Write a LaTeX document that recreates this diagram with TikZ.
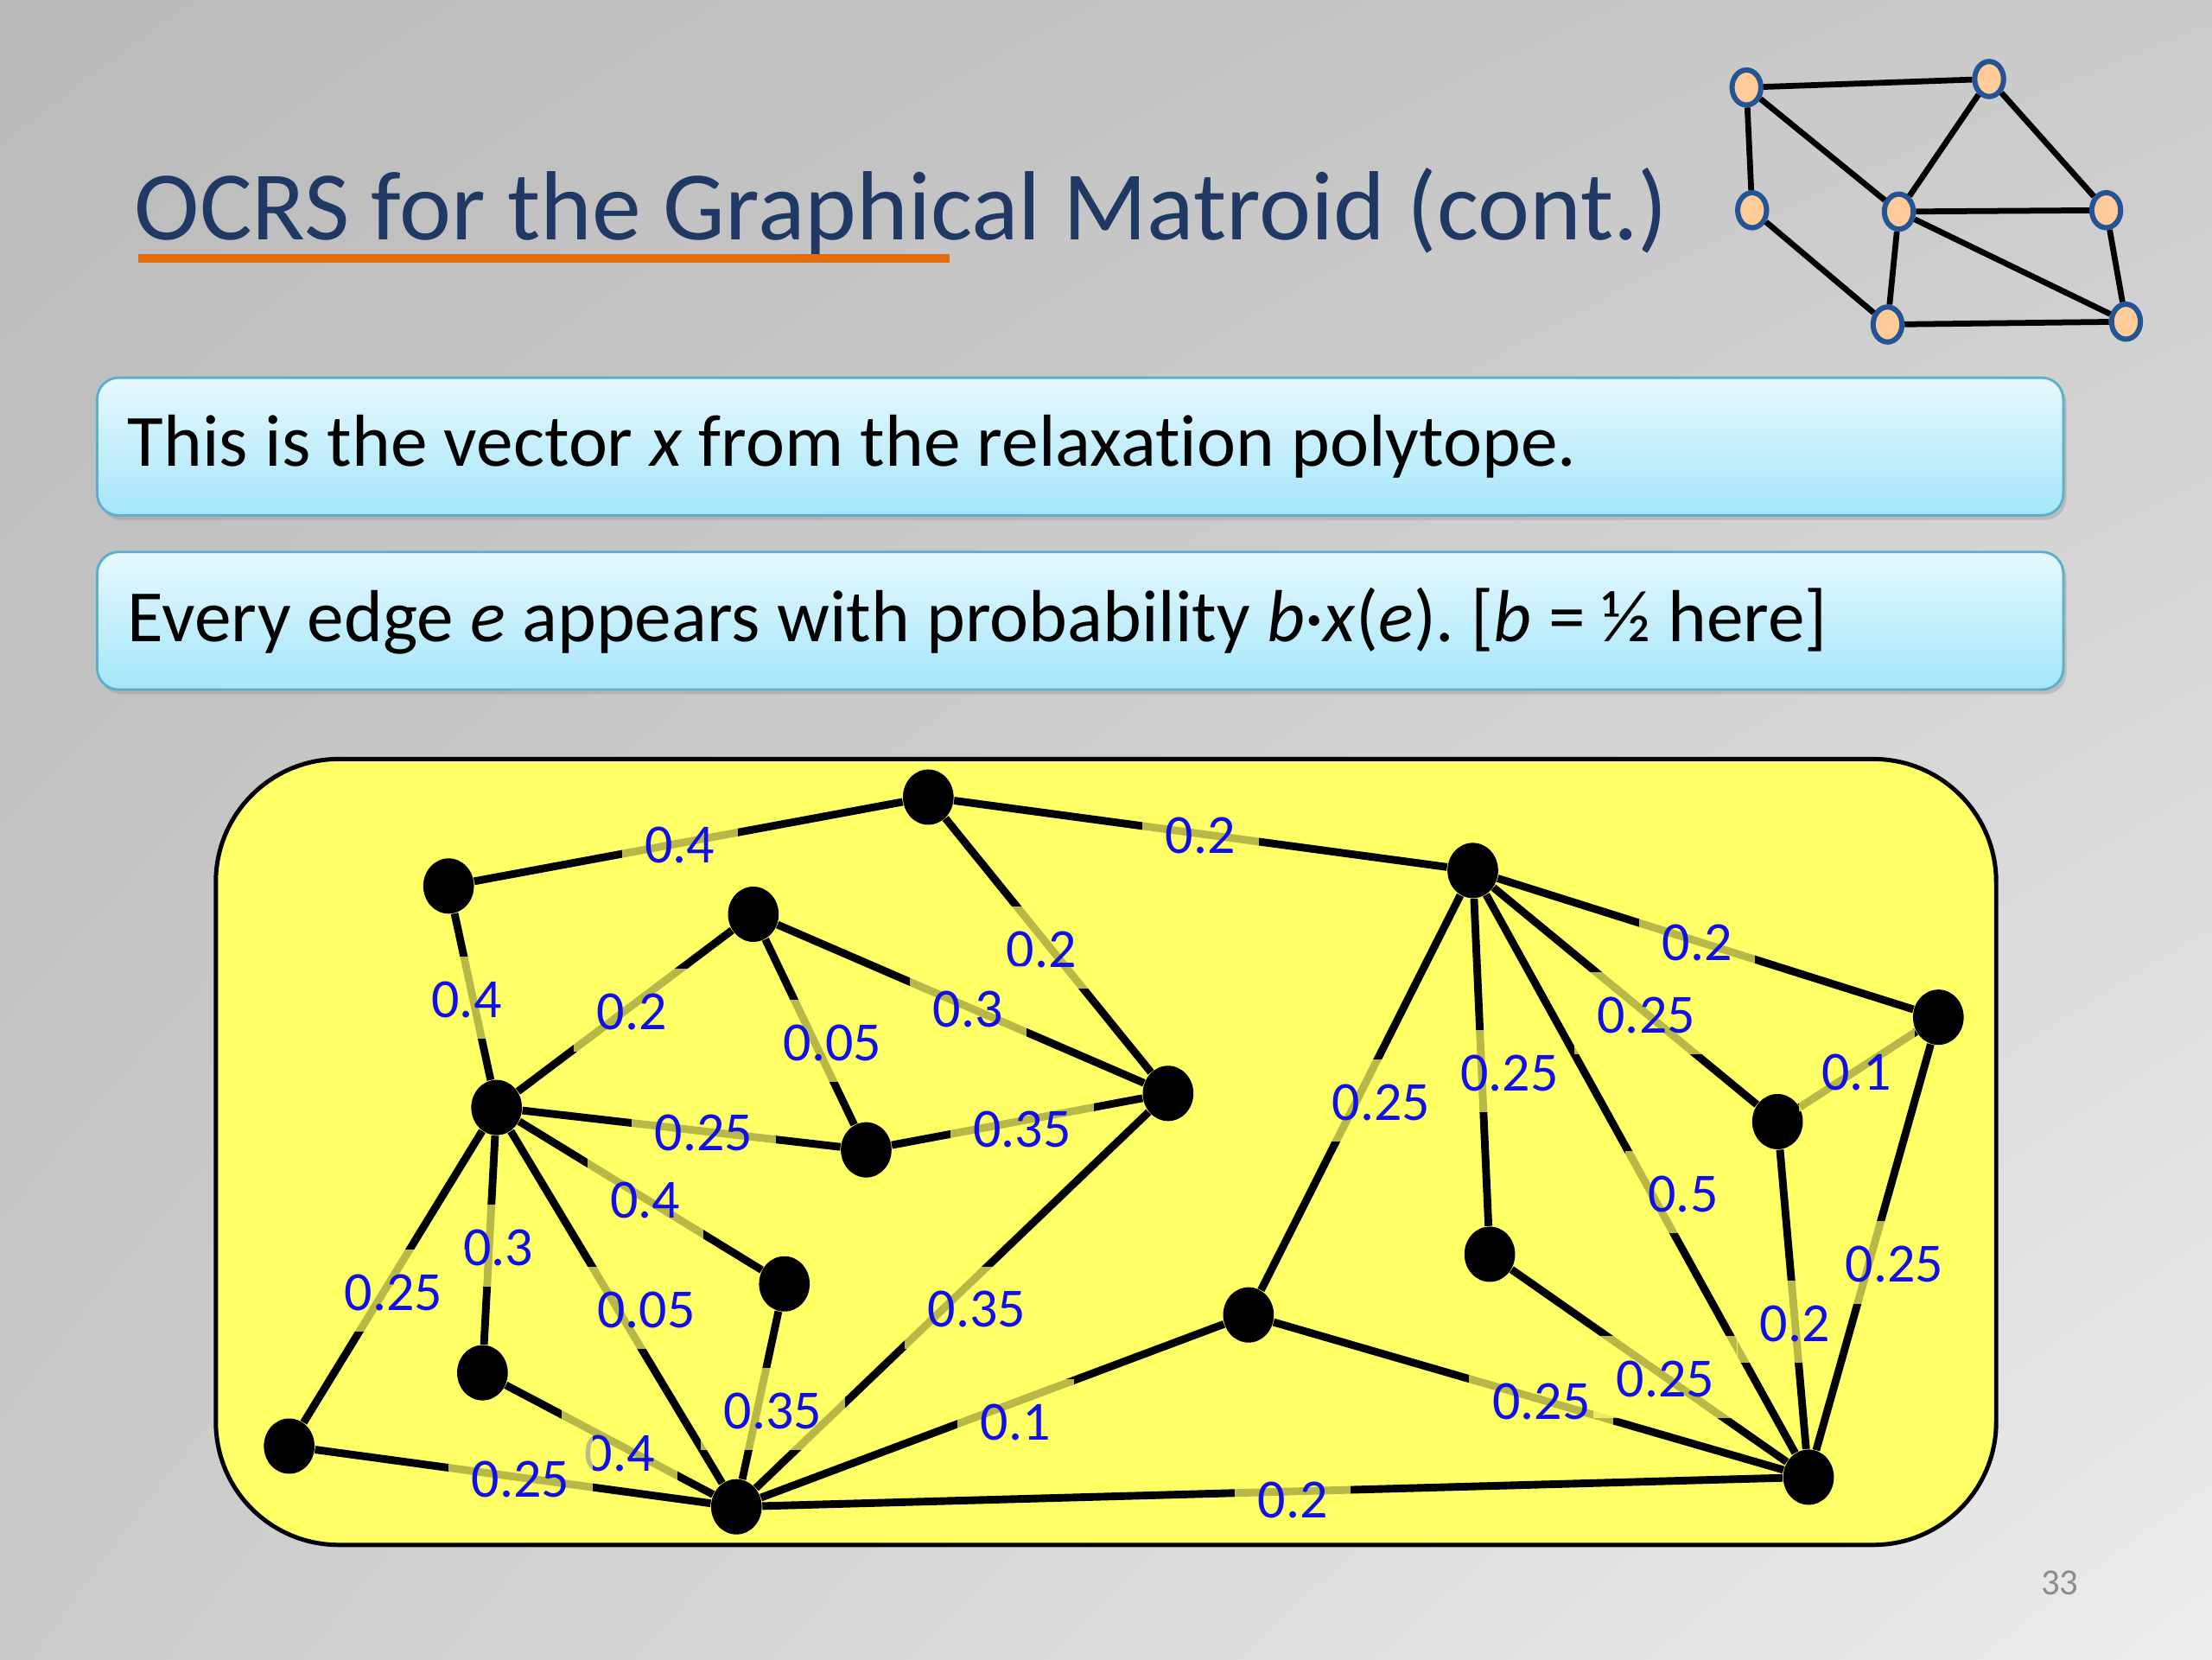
\documentclass[tikz,border=0pt]{standalone}
\usepackage{fontspec}
\setmainfont{Carlito}[Ligatures=NoCommon]
\usepackage{tikz}
\usetikzlibrary{
  shapes.geometric,
  shadings,
  shadows
}
\definecolor{bgdark}{RGB}{186,186,186}
\definecolor{bgmid}{RGB}{203,203,203}
\definecolor{bglight}{RGB}{236,236,236}
\definecolor{titlenavy}{RGB}{31,56,100}
\definecolor{underorange}{RGB}{228,108,10}
\definecolor{cardtop}{RGB}{230,248,253}
\definecolor{cardbot}{RGB}{165,230,250}
\definecolor{cardedge}{RGB}{90,175,205}
\definecolor{padyellow}{RGB}{255,255,102}
\definecolor{wtblue}{RGB}{15,15,230}
\definecolor{peach}{RGB}{255,204,153}
\definecolor{ringblue}{RGB}{36,84,148}
\definecolor{numgray}{RGB}{140,140,140}
\frenchspacing

\begin{document}
\begin{tikzpicture}[x=0.4592pt,y=-0.4592pt,
  vtx/.style={ellipse,fill=black,minimum width=16.5pt,minimum height=18pt,inner sep=0pt},
  mini/.style={ellipse,draw=ringblue,line width=1.7pt,fill=peach,
    minimum width=9.4pt,minimum height=11.4pt,inner sep=0pt},
  edge/.style={line width=2.5pt},
  wt/.style={font=\fontsize{18}{18}\selectfont,text=wtblue,fill=padyellow,
    fill opacity=0.72,text opacity=1,inner xsep=7.5pt,inner ysep=5pt,
    text height=14.8pt,text depth=2pt},
  card/.style={anchor=west,rounded corners=7pt,draw=cardedge,line width=0.8pt,
    top color=cardtop,bottom color=cardbot,
    drop shadow={opacity=0.3,shadow xshift=1pt,shadow yshift=-1.5pt},
    font=\fontsize{24}{29}\selectfont,text width=620pt,align=flush left,
    inner xsep=10pt,minimum height=44.8pt}
]

  \useasboundingbox (0,0) rectangle (1568,1176);
  \shade[upper left=bgdark,upper right=bgmid,lower left=bgmid,lower right=bglight]
    (0,0) rectangle (1568,1176);

  % title
  \node[anchor=base west,inner sep=0pt,text=titlenavy,
    font=\fontsize{32}{38}\selectfont] (title) at (95,170)
    {OCRS for the Graphical Matroid (cont.)};
  \draw[underorange,line width=2.75pt] (98,183) -- (673,183);

  % small graph, top right
  \foreach \n/\x/\y in {s1/1238/62, s2/1410/56, s3/1242/149, s4/1346/150,
                        s5/1493/149, s6/1338/230, s7/1507/228}
    \node[mini] (\n) at (\x,\y) {};
  \foreach \a/\b in {s1/s2, s1/s3, s1/s4, s2/s4, s2/s5, s3/s6,
                     s4/s5, s4/s6, s4/s7, s6/s7, s5/s7}
    \draw[line width=1.9pt] (\a) -- (\b);

  % text cards
  \node[card] (card1) at (68,316.5)
    {This is the vector \textit{x} from the relaxation polytope.};
  \node[card] (card2) at (68,440)
    {Every edge \textit{e} appears with probability \textit{b}·\textit{x}(\textit{e}). [\textit{b} = ½ here]};

  % weighted graph
  \draw[fill=padyellow,line width=1.4pt,rounded corners=40pt]
    (153,538) rectangle (1415,1095);

  \foreach \n/\x/\y in {a/318/628, b/658/565, c/534/648, d/352/785,
                        e/828/775, f/614/815, g/556/910, h/342/973,
                        i/205/1025, j/522/1068, k/1044/617, l/1374/721,
                        m/1260/795, n/1056/889, o/885/932, p/1282/1047}
    \node[vtx] (\n) at (\x,\y) {};

  \foreach \a/\b/\w/\p/\dx/\dy in {
      a/b/0.4/0.48/0/0, b/k/0.2/0.5/0/0, b/e/0.2/0.522/-3.7/1,
      c/e/0.3/0.52/0/0, a/d/0.4/0.504/-2/0, d/c/0.2/0.504/2/0,
      c/f/0.05/0.548/6/0, d/f/0.25/0.57/0/0, f/e/0.35/0.52/0/-2.3,
      d/g/0.4/0.52/0/0, d/h/0.3/0.527/3/0, d/i/0.25/0.548/3/0,
      h/j/0.4/0.55/0/-2, d/j/0.05/0.502/9.5/0, e/j/0.35/0.52/10.5/0,
      g/j/0.35/0.58/5/0, i/j/0.25/0.52/0/0, j/o/0.1/0.55/0/-6,
      j/p/0.2/0.52/0/-2.3, k/o/0.25/0.52/8/0, k/n/0.25/0.526/9/0,
      k/p/0.5/0.533/10.5/0, k/m/0.25/0.58/0/0, k/l/0.2/0.48/0/0,
      m/l/0.1/0.49/0/0, m/p/0.2/0.574/0/0, l/p/0.25/0.538/8.3/0,
      o/p/0.25/0.525/0/0, n/p/0.25/0.56/0/0}
    \draw[edge] (\a) -- node[wt,pos=\p,xshift=\dx pt,yshift=\dy pt] {\w} (\b);

  \node[font=\fontsize{12}{14}\selectfont,text=numgray] (pageno) at (1460,1122) {33};

\end{tikzpicture}
\end{document}
